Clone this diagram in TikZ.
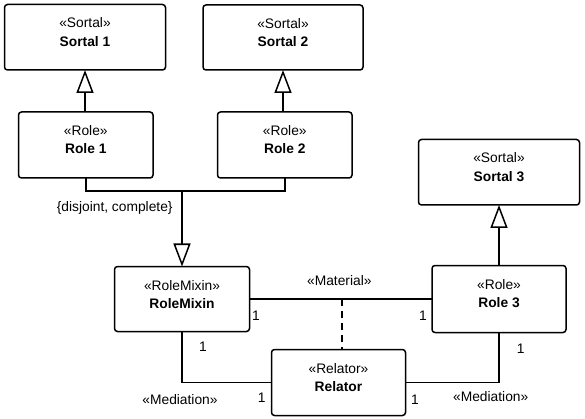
\documentclass[tikz,border=0pt]{standalone}
\usepackage{fontspec}
\setmainfont{Liberation Sans}
\usetikzlibrary{arrows.meta}
\newcommand\umltext[4]{\parbox[c][#2][t]{#1}{\centering\fontsize{13.8}{18.5}\selectfont\rule{0pt}{23.5pt}«#3»\\\textbf{#4}}}
\tikzset{
  umlbox/.style={draw, line width=1.5pt, rounded corners=3pt, inner sep=0pt, outer sep=0pt, fill=white},
  conn/.style={line width=1.5pt},
  gen/.style={conn, -{Triangle[open, length=23pt, width=17pt]}},
  matdash/.style={conn, dash pattern=on 7pt off 5pt},
  lbl/.style={inner sep=0pt, font=\fontsize{13.8}{16}\selectfont}
}
\begin{document}
\begin{tikzpicture}[x=1pt,y=-1pt]
\path[use as bounding box, fill=white] (0,0) rectangle (585,419);
% boxes
\node[umlbox] (S1) at (85,37.25) {\umltext{161pt}{65.5pt}{Sortal}{Sortal 1}};
\node[umlbox] (S2) at (283,37.5) {\umltext{160pt}{65pt}{Sortal}{Sortal 2}};
\node[umlbox] (R1) at (85.75,145) {\umltext{134.5pt}{66pt}{Role}{Role 1}};
\node[umlbox] (R2) at (284.75,145) {\umltext{134.5pt}{66pt}{Role}{Role 2}};
\node[umlbox] (S3) at (499,172.25) {\umltext{161pt}{65.5pt}{Sortal}{Sortal 3}};
\node[umlbox] (R3) at (499,299) {\umltext{134pt}{67pt}{Role}{Role 3}};
\node[umlbox] (RM) at (182,299) {\umltext{135pt}{65pt}{RoleMixin}{RoleMixin}};
\node[umlbox] (Rel) at (338.5,382.5) {\umltext{134pt}{66pt}{Relator}{Relator}};
% generalizations
\draw[gen] (S1.south |- R1.north) -- (S1.south);
\draw[gen] (S2.south |- R2.north) -- (S2.south);
\draw[gen] (R3.north) -- (S3.south);
\coordinate (J) at (182,191);
\draw[conn] (R1.south) |- (J) -| (R2.south);
\draw[gen] (J) -- (RM.north);
\node[lbl] (gs) at (114.7,208.3) {\{disjoint, complete\}};
% material
\draw[conn] (RM.east) -- (R3.west);
\coordinate (M) at (342,299);
\draw[matdash] (M) -- (M |- Rel.north);
\node[lbl] (mat) at (339.3,280.7) {«Material»};
\node[lbl] (m1) at (256,316) {1};
\node[lbl] (m2) at (423,316) {1};
% mediations
\draw[conn] (RM.south) |- (Rel.west);
\draw[conn] (R3.south) |- (Rel.east);
\node[lbl] (a1) at (203,346.7) {1};
\node[lbl] (a2) at (261.7,398) {1};
\node[lbl] (med1) at (180,400) {«Mediation»};
\node[lbl] (b1) at (520.7,349) {1};
\node[lbl] (b2) at (415,400) {1};
\node[lbl] (med2) at (490.7,397) {«Mediation»};
\end{tikzpicture}
\end{document}
